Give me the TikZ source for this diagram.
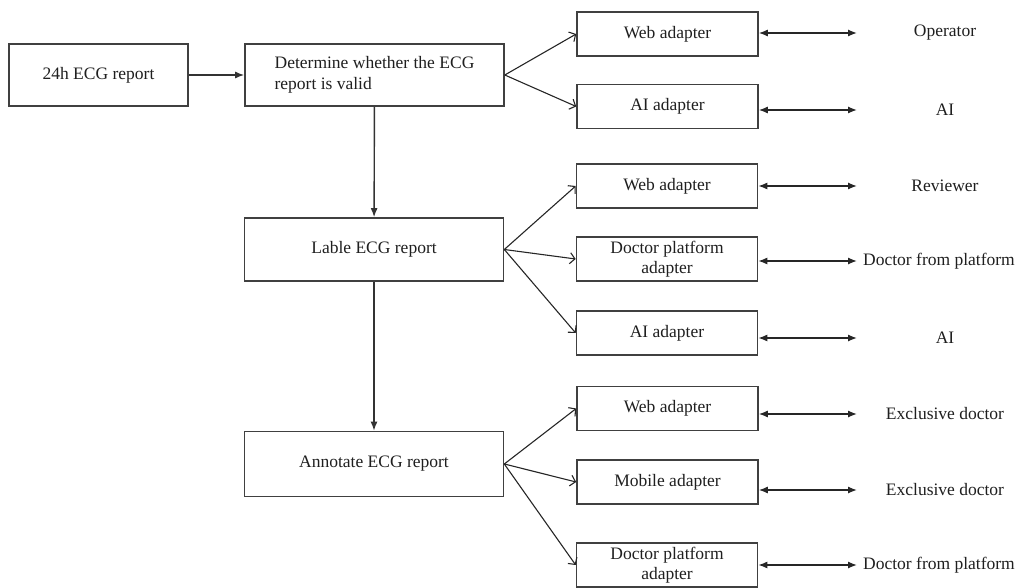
\documentclass[tikz,border=0pt]{standalone}
\usepackage{fontspec}
\setmainfont{Liberation Serif}
\usetikzlibrary{arrows.meta,calc}
\begin{document}
\begin{tikzpicture}[x=1pt,y=-1pt,
  txt/.style={font=\fontsize{17.5}{20.5}\selectfont, text=black!88},
  box/.style={txt, draw=black!75, line width=1.6pt, inner sep=2pt, align=center},
  pbox/.style={box, minimum width=259pt},
  abox/.style={box, minimum width=181pt, minimum height=44pt},
  lab/.style={txt, inner sep=0pt},
  flow/.style={draw=black!80, line width=1.4pt, -{Latex[length=9pt,width=7pt]}},
  fan/.style={draw=black!85, line width=1.1pt, -{Straight Barb[length=5pt,width=11pt,line width=1.1pt]}},
  dbl/.style={draw=black!85, line width=1.3pt, {Latex[length=9pt,width=7pt]}-{Latex[length=9pt,width=7pt]}}
]
\useasboundingbox (0,0) rectangle (1033,588);

% process boxes
\node[box, minimum width=179pt, minimum height=62pt] (r24) at (98.5,75) {24h ECG report};
\node[pbox, minimum height=62pt, align=left] (det) at (374.5,75) {Determine whether the ECG\\report is valid};
\node[pbox, minimum height=63pt] (lbl) at (374,249.5) {Lable ECG report};
\node[pbox, minimum height=65pt] (ann) at (374,464) {Annotate ECG report};

% adapter boxes
\node[abox] (web1) at (667.5,34) {Web adapter};
\node[abox] (ai1)  at (667.5,106.5) {AI adapter};
\node[abox] (web2) at (667,186) {Web adapter};
\node[abox] (doc2) at (667,259) {Doctor platform\\adapter};
\node[abox] (ai2)  at (667,333) {AI adapter};
\node[abox] (web3) at (667.5,408.5) {Web adapter};
\node[abox] (mob)  at (667.5,482) {Mobile adapter};
\node[abox] (doc3) at (667,565) {Doctor platform\\adapter};

% actor labels
\node[lab] (l1) at (945,33) {Operator};
\node[lab] (l2) at (945,110) {AI};
\node[lab] (l3) at (945,186) {Reviewer};
\node[lab, anchor=west] (l4) at (863,261) {Doctor from platform};
\node[lab] (l5) at (945,338) {AI};
\node[lab] (l6) at (945,414) {Exclusive doctor};
\node[lab] (l7) at (945,490) {Exclusive doctor};
\node[lab, anchor=west] (l8) at (863,565) {Doctor from platform};

\coordinate (e1) at (857,33);
\coordinate (e2) at (857,110);
\coordinate (e3) at (857,186);
\coordinate (e4) at (857,261);
\coordinate (e5) at (857,338);
\coordinate (e6) at (857,414);
\coordinate (e7) at (857,490);
\coordinate (e8) at (857,565);

% main flow
\draw[flow] (r24) -- (det);
\draw[flow] (det) -- (lbl);
\draw[flow] (lbl) -- (ann);

% fan-out
\draw[fan] (det.east) -- (web1.west);
\draw[fan] (det.east) -- (ai1.west);
\draw[fan] (lbl.east) -- (web2.west);
\draw[fan] (lbl.east) -- (doc2.west);
\draw[fan] (lbl.east) -- (ai2.west);
\draw[fan] (ann.east) -- (web3.west);
\draw[fan] (ann.east) -- (mob.west);
\draw[fan] (ann.east) -- (doc3.west);

% two-way links
\draw[dbl] (web1.east |- e1) -- (e1);
\draw[dbl] (ai1.east |- e2) -- (e2);
\draw[dbl] (web2.east |- e3) -- (e3);
\draw[dbl] (doc2.east |- e4) -- (e4);
\draw[dbl] (ai2.east |- e5) -- (e5);
\draw[dbl] (web3.east |- e6) -- (e6);
\draw[dbl] (mob.east |- e7) -- (e7);
\draw[dbl] (doc3.east |- e8) -- (e8);
\end{tikzpicture}
\end{document}
